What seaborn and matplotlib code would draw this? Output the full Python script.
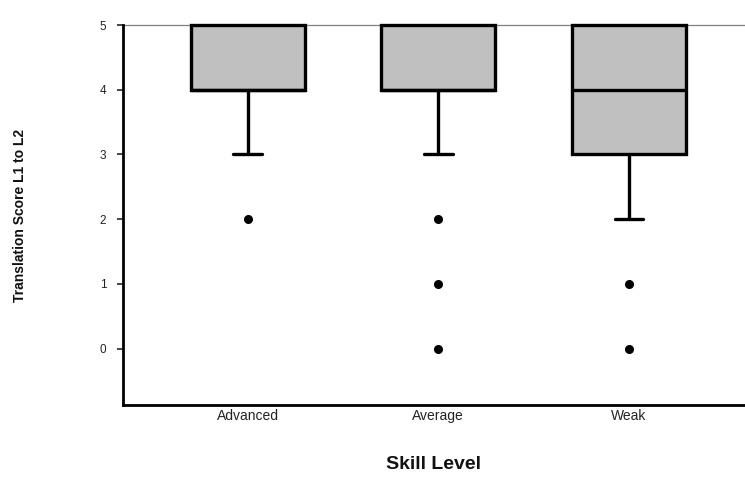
import numpy as np
import pandas as pd
import matplotlib
matplotlib.use("Agg")
import matplotlib.pyplot as plt
import seaborn as sns

# ---- data (translation scores L1 -> L2 by skill level) ----
categories = ["Advanced", "Average", "Weak"]
advanced_scores = [2, 3, 3, 4, 4, 4, 4, 4, 4, 4, 4, 5, 5, 5, 5, 5, 5, 5, 5, 5]
average_scores = [0, 1, 2, 3, 3, 4, 4, 4, 4, 4, 4, 4, 4, 4, 4,
                  5, 5, 5, 5, 5, 5, 5, 5, 5, 5]
weak_scores = [0, 1, 2, 2, 3, 3, 3, 3, 3, 4, 4, 4, 4, 5, 5, 5, 5, 5, 5, 5]
y_ticks = [0, 1, 2, 3, 4, 5]

df = pd.DataFrame({
    "Skill Level": (["Advanced"] * len(advanced_scores)
                    + ["Average"] * len(average_scores)
                    + ["Weak"] * len(weak_scores)),
    "Score": advanced_scores + average_scores + weak_scores,
})

sns.set_style("white")
plt.rcParams["font.family"] = ["Liberation Sans", "DejaVu Sans"]

fig = plt.figure(figsize=(7.45, 4.80), dpi=100)
ax = fig.add_axes([123 / 745, 75 / 480, 622 / 745, 380 / 480])

sns.boxplot(
    data=df, x="Skill Level", y="Score", order=categories, ax=ax,
    color="#c0c0c0", linecolor="black", linewidth=2.4, width=0.6,
    whis=(10, 100), saturation=1,
    flierprops={"marker": "o", "markerfacecolor": "black",
                "markeredgecolor": "black", "markersize": 5.5},
    capwidths=0.15,
)

for art in ax.patches:
    art.set_clip_on(False)
    art.set_zorder(3)
for art in ax.lines:
    art.set_clip_on(False)
    art.set_zorder(3.5)
    ys = np.asarray(art.get_ydata(), dtype=float)
    xs = np.asarray(art.get_xdata(), dtype=float)
    if art.get_marker() in (None, "None", "") and len(ys) == 2:
        # caps sitting on the top edge of the box are hidden by the box edge
        if ys[0] == ys[1] == max(y_ticks) and abs(xs[1] - xs[0]) < 0.3:
            art.set_visible(False)

ax.axhline(5, color="#808080", lw=0.9, zorder=1, clip_on=False)

ax.set_xlim(-0.655, 2.61)
ax.set_ylim(-0.87, 5)
ax.set_yticks(y_ticks)

for s in ["top", "right"]:
    ax.spines[s].set_visible(False)
for s in ["left", "bottom"]:
    ax.spines[s].set_color("black")
    ax.spines[s].set_linewidth(2.0)

ax.tick_params(axis="y", direction="out", length=4, width=1.2, pad=8,
               labelsize=8.5, labelcolor="#222222", left=True)
ax.tick_params(axis="x", length=0, pad=3, labelsize=10, labelcolor="#222222")

ax.set_xlabel("Skill Level", fontsize=14, fontweight="bold", color="#111111")
ax.xaxis.set_label_coords(0.5, -0.135)
ax.xaxis.label.set_va("top")

ax.set_ylabel("Translation Score L1 to L2", fontsize=10, fontweight="bold",
              color="#111111")
ax.yaxis.set_label_coords(-0.155, 0.5)

fig.savefig("out.png", dpi=100)
